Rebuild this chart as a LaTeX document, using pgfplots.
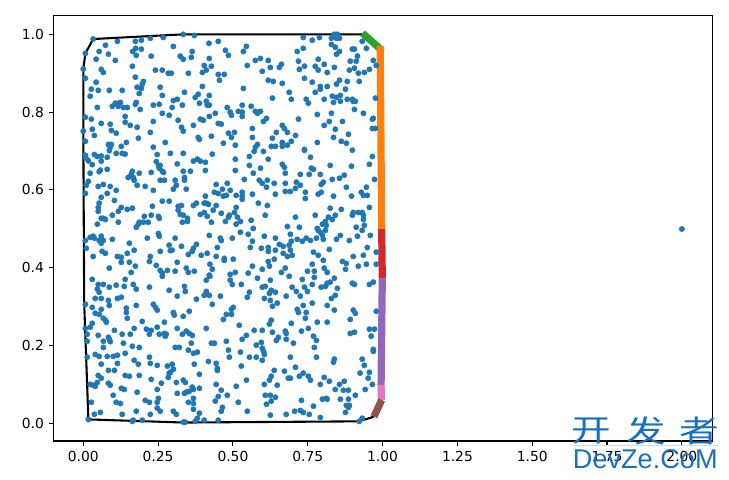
\documentclass[border=0pt]{standalone}
\usepackage{fontspec}
\setmainfont{DejaVu Sans}
\newfontfamily\cjk{Noto Sans CJK SC}
\newfontfamily\wmfont{Liberation Sans}
\usepackage{pgfplots}
\pgfplotsset{compat=1.18}
\definecolor{dotblue}{HTML}{1F77B4}
\definecolor{segorange}{HTML}{FF7F0E}
\definecolor{seggreen}{HTML}{2CA02C}
\definecolor{segred}{HTML}{D62728}
\definecolor{segpurple}{HTML}{9467BD}
\definecolor{segbrown}{HTML}{8C564B}
\definecolor{segpink}{HTML}{E377C2}
\definecolor{wmblue}{HTML}{1A6FBF}
\definecolor{wmline}{HTML}{BFE3F5}
\begin{document}
\begin{tikzpicture}
\path[use as bounding box] (0,0) rectangle (524.88bp,345.6bp);
\begin{axis}[
    at={(38.66bp,28.08bp)}, anchor=south west,
    scale only axis, width=474.48bp, height=306.5bp,
    xmin=-0.0989, xmax=2.103, ymin=-0.0455, ymax=1.049,
    xtick={0,0.25,...,2}, ytick={0,0.2,...,1},
    xtick pos=lower, ytick pos=left, tick align=outside,
    major tick length=3.5bp,
    tick style={black, line width=0.8bp},
    axis line style={line width=0.8bp},
    x tick label style={/pgf/number format/.cd, fixed, fixed zerofill, precision=2, assume math mode=true},
    y tick label style={/pgf/number format/.cd, fixed, fixed zerofill, precision=1, assume math mode=true},
    tick label style={font=\fontsize{10}{12}\selectfont},
    xticklabel shift=0.5bp,
]
\addplot[only marks, color=dotblue, mark=*, mark size=1.95bp, mark options={draw=dotblue, fill=dotblue, line width=0.25bp}] coordinates {
(.334,1.000)(.371,.997)(.267,.992)(.224,.990)(.194,.985)(.174,.982)(.114,.982)(.074,.972)(.033,.988)(.420,.977)
(.301,.969)(.194,.962)(.175,.964)(.165,.956)(.177,.946)(.053,.956)(.084,.949)(.007,.951)(.043,.936)(.107,.933)
(.227,.944)(.324,.944)(.334,.936)(.364,.956)(.361,.941)(.421,.938)(.164,.918)(.404,.920)(0,.911)(.060,.910)
(.067,.902)(.241,.908)(.264,.908)(.284,.900)(.294,.900)(.351,.900)(.398,.902)(.411,.908)(.007,.887)(.174,.890)
(.201,.879)(.197,.872)(.043,.877)(.027,.859)(.050,.856)(.087,.856)(.130,.856)(.180,.864)(.194,.861)(.257,.864)
(.398,.866)(.187,.848)(.338,.851)(.023,.841)(.264,.843)(.384,.846)(.374,.838)(.421,.843)(.301,.830)(.314,.833)
(.047,.812)(.097,.815)(.107,.823)(.120,.823)(.124,.825)(.117,.815)(.134,.812)(.147,.812)(.177,.825)(.174,.820)
(.190,.807)(.234,.818)(.254,.820)(.297,.812)(.331,.818)(.388,.823)(.411,.828)(.414,.818)(.421,.818)(.007,.787)
(.027,.782)(.140,.789)(.264,.797)(.287,.792)(.317,.779)(.234,.776)(.060,.771)(.090,.769)(.140,.774)(.157,.766)
(.180,.761)(.391,.782)(.401,.779)(.421,.789)(.328,.761)(.368,.766)(0,.751)(.030,.756)(.094,.753)(.110,.746)
(.037,.740)(.224,.748)(.334,.751)(.007,.725)(.184,.733)(.384,.735)(.388,.730)(.144,.722)(.274,.722)(.084,.717)
(.094,.717)(.090,.710)(.127,.712)(.234,.710)
(.451,.982)(.475,.959)(.485,.946)(.545,.969)(.535,.956)(.428,.918)(.575,.933)(.592,.938)(.618,.933)(.548,.920)
(.625,.915)(.598,.905)(.655,.915)(.662,.923)(.451,.897)(.471,.897)(.455,.882)(.618,.882)(.635,.879)(.665,.874)
(.535,.861)(.688,.851)(.632,.836)(.695,.833)(.745,.833)(.752,.823)(.481,.812)(.531,.818)(.561,.815)(.491,.800)
(.495,.792)(.518,.802)(.531,.800)(.531,.789)(.575,.802)(.582,.797)(.592,.802)(.441,.797)(.612,.784)(.602,.776)
(.451,.771)(.461,.769)(.665,.766)(.672,.758)(.682,.748)(.565,.758)(.485,.746)(.505,.748)(.495,.735)(.565,.735)
(.645,.748)(.632,.733)(.709,.740)(.468,.720)(.508,.715)(.695,.725)(.665,.722)(.682,.715)(.665,.712)(.642,.712)
(.628,.712)(.582,.717)(.575,.710)(.739,.704)(.782,.722)(.428,.738)(.735,.992)(.765,.985)(.789,.992)(.829,.990)
(.839,1.000)(.849,1.000)(.856,.990)(.846,.990)(.829,.974)(.842,.967)(.856,.956)(.846,.949)(.715,.956)(.735,.964)
(.785,.936)(.719,.931)(.739,.918)(.722,.910)(.775,.918)(.785,.908)(.805,.923)(.815,.902)(.839,.915)(.899,.962)
(.906,.962)(.932,.982)(.946,.964)(.916,.944)(.892,.931)(.912,.931)(.969,.933)(.979,.920)(.906,.913)(.889,.908)
(.919,.900)(.939,.902)(.956,.910)(.739,.887)(.765,.877)(.856,.882)(.846,.872)(.882,.879)(.922,.879)(.815,.866)
(.792,.866)(.792,.859)(.775,.851)(.876,.859)(.832,.841)(.846,.838)(.859,.843)(.805,.833)(.836,.825)(.859,.828)
(.882,.833)(.899,.833)(.902,.828)(.909,.828)(.976,.836)(.906,.807)(.782,.794)(.829,.797)(.936,.797)(.822,.776)
(.805,.766)(.866,.776)(.966,.782)(.969,.784)(.842,.756)(.966,.758)(.976,.758)(.836,.735)(.886,.743)(.862,.725)
(.879,.720)(.719,.782)
(.007,.689)(.009,.682)(.037,.691)(.047,.686)(.060,.687)(.080,.684)(.087,.701)(.110,.694)(.130,.694)(.140,.692)
(.247,.691)(.291,.694)(.334,.694)(.017,.675)(.030,.665)(.060,.674)(.080,.653)(.057,.651)(.053,.647)(.023,.643)
(.244,.673)(.251,.663)(.257,.663)(.254,.656)(.264,.648)(.268,.645)(.314,.667)(.334,.648)(.358,.648)(.368,.674)
(.381,.679)(.391,.674)(.408,.671)(.408,.650)(.164,.648)(.160,.640)(.187,.643)(.150,.632)(.167,.632)(.170,.625)
(.180,.612)(.207,.609)(.227,.645)(.017,.622)(.010,.612)(.007,.591)(.050,.609)(.067,.614)(.090,.609)(.110,.599)
(.080,.591)(.234,.599)(.257,.625)(.271,.625)(.307,.625)(.311,.612)(.301,.602)(.338,.632)(.338,.625)(.344,.602)
(.060,.581)(.053,.566)(.050,.555)(.050,.545)(.104,.573)(.147,.550)(.164,.553)(.127,.555)(.117,.545)(.231,.558)
(.264,.571)(.287,.571)(.317,.558)(.328,.560)(.317,.548)(.324,.537)(.334,.535)(.408,.584)(.411,.566)(.404,.566)
(.418,.563)(.368,.560)(.378,.566)(.391,.537)(.404,.542)(.414,.532)(.060,.527)(.067,.527)(.074,.524)(.097,.535)
(.117,.517)(.047,.512)(.204,.532)(.227,.535)(.251,.532)(.254,.527)(.217,.517)(.201,.517)(.187,.517)(.184,.512)
(.177,.504)(.331,.517)(.348,.527)(.348,.519)(.251,.488)(.254,.481)(.307,.476)(.214,.476)(.421,.483)(.033,.481)
(.023,.478)(.037,.476)(.060,.481)(.053,.470)(.067,.470)(.060,.463)(.097,.473)(.154,.463)(.007,.470)(.010,.450)
(.063,.442)(.074,.437)(.170,.445)(.147,.437)(.033,.429)(.114,.429)(.127,.427)(.127,.414)(.154,.414)(.174,.404)
(.160,.388)(.087,.399)(.224,.429)(.221,.416)(.244,.406)(.257,.393)(.281,.393)(.264,.386)(.264,.378)(.307,.391)
(.314,.414)(.257,.442)(.287,.458)(.291,.444)(.297,.445)(.328,.455)(.378,.460)(.368,.450)(.364,.442)(.351,.434)
(.394,.432)(.414,.437)(.344,.399)(.351,.388)(.371,.391)(.421,.381)(.411,.368)(.030,.370)(.050,.357)(.067,.357)
(.047,.345)(.053,.337)(.087,.350)(.110,.355)(.137,.352)(.140,.370)(.167,.357)(.177,.345)(.221,.350)(.287,.342)
(.338,.352)(.341,.339)(.411,.339)
(.431,.692)(.555,.686)(.571,.699)(.602,.699)(.508,.679)(.555,.663)(.592,.656)(.618,.679)(.508,.650)(.568,.643)
(.665,.666)(.672,.658)(.675,.643)(.725,.640)(.762,.656)(.769,.653)(.755,.640)(.739,.702)(.759,.684)(.825,.663)
(.792,.640)(.896,.661)(.956,.666)(.966,.686)(.899,.702)(.538,.627)(.588,.625)(.598,.617)(.615,.625)(.638,.617)
(.612,.607)(.675,.617)(.712,.620)(.725,.612)(.709,.604)(.692,.596)(.675,.596)(.642,.589)(.565,.589)(.444,.614)
(.481,.617)(.465,.602)(.491,.599)(.438,.594)(.451,.591)(.468,.584)(.478,.586)(.511,.586)(.531,.594)(.531,.584)
(.531,.576)(.742,.594)(.742,.578)(.802,.620)(.795,.614)(.795,.594)(.785,.589)(.832,.627)(.856,.630)(.872,.638)
(.879,.607)(.896,.584)(.836,.584)(.973,.627)(.946,.607)(.929,.594)(.936,.586)(.949,.586)(.585,.566)(.615,.560)
(.608,.535)(.444,.560)(.434,.548)(.461,.540)(.511,.555)(.505,.542)(.488,.535)(.485,.530)(.475,.519)(.515,.530)
(.525,.519)(.511,.512)(.428,.517)(.561,.522)(.568,.501)(.525,.491)(.551,.486)(.709,.530)(.682,.506)(.722,.504)
(.692,.486)(.605,.481)(.775,.535)(.825,.553)(.862,.550)(.842,.535)(.832,.524)(.819,.530)(.809,.519)(.799,.512)
(.812,.509)(.782,.501)(.785,.496)(.792,.491)(.809,.496)(.912,.504)(.902,.542)(.899,.535)(.919,.542)(.932,.542)
(.936,.535)(.936,.524)(.939,.509)(.932,.496)(.956,.555)(.916,.481)(.959,.483)(.859,.483)(.846,.473)(.889,.470)
(.799,.483)(.802,.473)(.779,.476)(.759,.470)(.745,.476)(.732,.468)(.715,.473)(.695,.468)(.688,.458)(.565,.468)
(.558,.452)(.595,.450)(.618,.452)(.618,.442)(.642,.476)(.655,.460)(.668,.455)(.642,.445)(.668,.437)(.682,.429)
(.698,.432)(.692,.445)(.822,.447)(.949,.452)(.979,.440)(.769,.440)(.785,.432)(.802,.419)(.866,.416)(.879,.411)
(.902,.429)(.936,.432)(.919,.404)(.946,.409)(.979,.409)(.876,.396)(.458,.476)(.461,.470)(.498,.476)(.448,.452)
(.444,.429)(.471,.424)(.471,.419)(.501,.422)(.431,.396)(.423,.409)(.423,.378)(.565,.404)(.598,.396)(.618,.416)
(.622,.404)(.638,.422)(.675,.399)(.662,.388)(.688,.378)(.551,.386)(.508,.388)(.491,.383)(.582,.373)(.625,.368)
(.491,.368)(.498,.357)(.528,.357)(.765,.409)(.749,.391)(.772,.391)(.772,.375)(.732,.370)(.805,.399)(.815,.388)
(.839,.373)(.795,.350)(.809,.352)(.815,.360)(.825,.363)(.765,.357)(.849,.347)(.899,.360)(.906,.357)(.956,.357)
(.969,.363)(.698,.350)(.712,.339)(.739,.350)(.749,.339)(.608,.352)(.598,.350)(.555,.337)(.622,.334)(.628,.342)
(.642,.337)
(.007,.306)(.040,.321)(.060,.321)(.084,.316)(.087,.303)(.114,.321)(.127,.324)(.177,.303)(.234,.306)(.241,.298)
(.247,.291)(.314,.327)(.378,.319)(.404,.329)(.421,.329)(.030,.298)(.060,.293)(.040,.283)(.053,.280)(.144,.296)
(.144,.285)(.147,.270)(.301,.285)(.304,.278)(.334,.275)(.354,.288)(.067,.270)(.074,.265)(.077,.260)(.030,.257)
(.023,.247)(.197,.262)(.271,.260)(.007,.244)(.104,.239)(.170,.244)(.211,.242)(.227,.239)(.247,.247)(.314,.244)
(.411,.244)(.130,.229)(.157,.229)(.221,.229)(.254,.229)(.271,.231)(.277,.229)(.274,.224)(.331,.229)(.344,.237)
(.354,.231)(.364,.226)(.013,.229)(.050,.226)(.084,.221)(.087,.216)(.090,.210)(.013,.211)(.067,.211)(.134,.206)
(.067,.195)(.164,.198)(.187,.195)(.307,.195)(.321,.195)(.361,.206)(.351,.188)(.368,.180)(.381,.183)(.040,.177)
(.053,.172)(.013,.170)(.080,.172)(.100,.172)(.114,.175)(.140,.180)(.221,.170)(.114,.154)(.060,.152)(.170,.162)
(.184,.152)(.224,.154)(.247,.149)(.281,.147)(.297,.152)(.371,.152)(.418,.159)(.084,.136)(.104,.136)(.301,.139)
(.291,.131)(.287,.129)(.284,.118)(.187,.123)(.140,.123)(.154,.121)(.050,.123)(.060,.116)(.388,.126)(.227,.113)
(.311,.105)(.334,.111)(.341,.105)(.023,.100)(.033,.098)(.047,.105)(.040,.095)(.084,.103)(.090,.098)(.127,.090)
(.137,.087)(.261,.103)(.388,.090)(.364,.093)(.368,.087)(.354,.082)(.344,.080)(.338,.077)(.180,.080)(.247,.087)
(.314,.077)(.100,.072)(.027,.054)(.110,.054)(.124,.051)(.207,.059)(.221,.054)(.251,.064)(.247,.054)(.351,.054)
(.368,.064)(.368,.051)(.247,.039)(.257,.031)(.177,.031)(.301,.031)(.311,.023)(.368,.036)(.057,.028)(.037,.023)
(.130,.023)(.224,.023)(.388,.026)(.381,.013)(.404,.008)(.374,.005)(.017,.010)(.167,.008)(.197,.008)(.334,.003)
(.164,.005)(.341,.003)
(.458,.327)(.431,.306)(.548,.324)(.605,.321)(.625,.316)(.632,.301)(.648,.309)(.678,.327)(.725,.327)(.765,.309)
(.735,.303)(.815,.303)(.839,.291)(.842,.329)(.829,.321)(.501,.298)(.495,.293)(.478,.280)(.495,.280)(.468,.267)
(.715,.293)(.719,.285)(.745,.285)(.742,.270)(.628,.265)(.622,.255)(.521,.252)(.695,.257)(.782,.260)(.815,.260)
(.892,.267)(.902,.291)(.909,.283)(.979,.288)(.571,.239)(.598,.239)(.632,.234)(.675,.237)(.678,.231)(.729,.237)
(.752,.244)(.892,.231)(.906,.234)(.956,.242)(.973,.242)(.769,.224)(.779,.213)(.962,.224)(.545,.226)(.531,.216)
(.652,.221)(.645,.213)(.678,.216)(.702,.206)(.478,.211)(.428,.206)(.438,.206)(.595,.208)(.578,.201)(.598,.193)
(.602,.185)(.605,.177)(.485,.188)(.525,.183)(.772,.195)(.969,.190)(.969,.185)(.488,.170)(.555,.170)(.578,.170)
(.598,.162)(.692,.170)(.779,.170)(.839,.165)(.836,.157)(.932,.165)(.939,.149)(.444,.154)(.448,.141)(.448,.136)
(.528,.147)(.709,.144)(.638,.136)(.672,.134)(.628,.121)(.622,.111)(.685,.116)(.692,.116)(.722,.121)(.735,.129)
(.752,.121)(.759,.111)(.805,.118)(.822,.108)(.925,.129)(.956,.131)(.952,.116)(.545,.111)(.444,.100)(.511,.095)
(.605,.100)(.648,.098)(.792,.100)(.856,.100)(.872,.108)(.842,.087)(.869,.085)(.886,.085)(.942,.087)(.966,.100)
(.461,.085)(.481,.072)(.451,.069)(.441,.057)(.465,.041)(.461,.031)(.518,.054)(.608,.072)(.625,.072)(.642,.067)
(.628,.057)(.612,.049)(.729,.059)(.799,.062)(.812,.064)(.815,.062)(.859,.062)(.886,.062)(.909,.072)(.548,.031)
(.678,.023)(.706,.031)(.725,.033)(.735,.028)(.755,.023)(.769,.044)(.792,.015)(.625,.021)(.876,.028)(.879,.046)
(.889,.046)(.886,.041)(.451,.008)(.922,.005)(.932,.013)
(2.0,.4995)
};
% hull, black part
\addplot[black, line width=1.5bp, line join=round] coordinates {
(.971,.017)(.921,.005)(.334,.002)(.017,.010)(.003,.309)(0,.75)(0,.911)(.007,.951)(.033,.988)(.334,1.0)(.936,1.0)
};
% thick segments
\addplot[seggreen, line width=5.2bp] coordinates {(.933,1.003)(.999,.958)};
\addplot[segorange, line width=5.2bp] coordinates {(.992,.970)(.997,.4995)};
\addplot[segred, line width=5.2bp] coordinates {(.997,.4995)(.999,.374)};
\addplot[segpurple, line width=5.2bp] coordinates {(.999,.374)(.995,.0985)};
\addplot[segpink, line width=5.2bp] coordinates {(.995,.0985)(.996,.060)};
\addplot[segbrown, line width=5.2bp] coordinates {(.997,.060)(.971,.017)};
\end{axis}
% watermark
\draw[wmline, line width=0.7bp] (412.6bp,24.8bp) -- (517bp,24.8bp);
\node[wmblue, font=\cjk\fontsize{22}{22}\selectfont, inner sep=0pt, xscale=1.3] at (425.9bp,35.4bp) {开};
\node[wmblue, font=\cjk\fontsize{22}{22}\selectfont, inner sep=0pt, xscale=1.3] at (465.5bp,35.4bp) {发};
\node[wmblue, font=\cjk\fontsize{22}{22}\selectfont, inner sep=0pt, xscale=1.3] at (503.6bp,35.4bp) {者};
\node[wmblue, font=\wmfont\fontsize{19.6}{20}\selectfont, inner sep=0pt, anchor=base] at (464.6bp,8.6bp) {DevZe.CoM};
\end{tikzpicture}
\end{document}
